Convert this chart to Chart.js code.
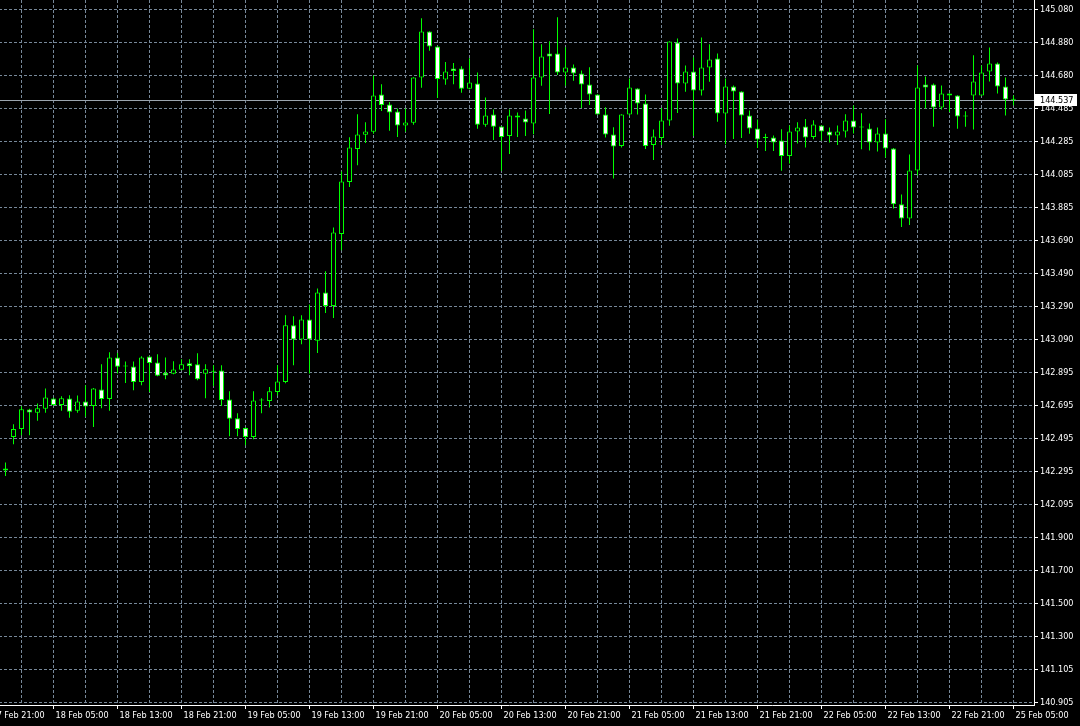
<!DOCTYPE html>
<html>
<head>
<meta charset="utf-8">
<script src="https://cdn.jsdelivr.net/npm/chart.js@4.4.1/dist/chart.umd.min.js"></script>
<style>
    html, body { margin: 0; padding: 0; background: #000; overflow: hidden; }
    #wrap { position: absolute; left: -16px; top: 0; width: 1096px; height: 726px; }
</style>
</head>
<body>
<div id="wrap"><canvas id="chart" width="1096" height="726"></canvas></div>
<script>
// H1 candles, 17 Feb 23:00 -> 25 Feb 05:00
const openPrices = [
    142.315, 142.505, 142.553, 142.670, 142.650, 142.674, 142.736, 142.698, 142.736, 142.662,
    142.718, 142.692, 142.791, 142.734, 142.983, 142.929, 142.929, 142.836, 142.990, 142.953,
    142.891, 142.885, 142.909, 142.949, 142.943, 142.885, 142.903, 142.905, 142.730, 142.618,
    142.558, 142.505, 142.724, 142.722, 142.776, 142.836, 143.178, 143.092, 143.212, 143.084,
    143.375, 143.294, 143.728, 144.041, 144.240, 144.325, 144.343, 144.568, 144.508, 144.466,
    144.381, 144.397, 144.670, 144.947, 144.857, 144.658, 144.725, 144.725, 144.602, 144.634,
    144.385, 144.447, 144.375, 144.318, 144.441, 144.423, 144.393, 144.670, 144.815, 144.815,
    144.700, 144.731, 144.694, 144.628, 144.568, 144.447, 144.327, 144.258, 144.447, 144.604,
    144.514, 144.264, 144.306, 144.411, 144.881, 144.634, 144.707, 144.592, 144.731, 144.785,
    144.453, 144.616, 144.586, 144.441, 144.363, 144.306, 144.309, 144.291, 144.198, 144.345,
    144.375, 144.312, 144.381, 144.345, 144.321, 144.345, 144.411, 144.369, 144.363, 144.279,
    144.333, 144.243, 143.907, 143.821, 144.110, 144.628, 144.628, 144.490, 144.574, 144.562,
    144.435, 144.562, 144.562, 144.707, 144.755, 144.616, 144.537
];
const highPrices = [
    142.351, 142.582, 142.690, 142.675, 142.706, 142.797, 142.741, 142.750, 142.756, 142.755,
    142.817, 142.799, 142.943, 143.015, 143.011, 142.959, 142.959, 142.991, 142.991, 143.003,
    142.983, 142.961, 142.973, 142.973, 143.009, 142.943, 142.937, 142.937, 142.780, 142.648,
    142.561, 142.780, 142.738, 142.806, 142.937, 143.238, 143.232, 143.238, 143.303, 143.399,
    143.503, 143.767, 144.104, 144.311, 144.449, 144.401, 144.682, 144.630, 144.522, 144.484,
    144.484, 144.672, 145.028, 144.949, 144.859, 144.763, 144.757, 144.738, 144.787, 144.700,
    144.550, 144.478, 144.377, 144.478, 144.459, 144.471, 144.961, 144.871, 144.889, 145.034,
    144.853, 144.749, 144.713, 144.732, 144.570, 144.491, 144.371, 144.449, 144.664, 144.606,
    144.568, 144.357, 144.487, 144.889, 144.905, 144.743, 144.791, 144.911, 144.871, 144.815,
    144.664, 144.622, 144.588, 144.471, 144.417, 144.331, 144.321, 144.359, 144.381, 144.401,
    144.421, 144.413, 144.383, 144.369, 144.381, 144.449, 144.502, 144.455, 144.393, 144.369,
    144.419, 144.245, 143.965, 144.206, 144.743, 144.676, 144.634, 144.622, 144.576, 144.564,
    144.467, 144.805, 144.743, 144.851, 144.761, 144.670, 144.562
];
const lowPrices = [
    142.270, 142.461, 142.515, 142.515, 142.602, 142.650, 142.693, 142.662, 142.620, 142.650,
    142.626, 142.565, 142.678, 142.662, 142.887, 142.830, 142.786, 142.817, 142.776, 142.871,
    142.853, 142.883, 142.907, 142.877, 142.847, 142.738, 142.812, 142.692, 142.509, 142.509,
    142.455, 142.491, 142.648, 142.682, 142.755, 142.829, 142.937, 143.064, 142.887, 143.011,
    143.252, 143.222, 143.630, 144.011, 144.142, 144.276, 144.331, 144.469, 144.349, 144.312,
    144.343, 144.385, 144.608, 144.831, 144.547, 144.626, 144.630, 144.578, 144.600, 144.361,
    144.373, 144.294, 144.108, 144.210, 144.312, 144.318, 144.329, 144.620, 144.451, 144.686,
    144.620, 144.650, 144.487, 144.505, 144.446, 144.309, 144.062, 144.249, 144.441, 144.447,
    144.240, 144.174, 144.264, 144.379, 144.457, 144.584, 144.318, 144.562, 144.644, 144.403,
    144.268, 144.300, 144.306, 144.331, 144.246, 144.228, 144.228, 144.108, 144.152, 144.273,
    144.249, 144.299, 144.291, 144.279, 144.264, 144.309, 144.333, 144.238, 144.231, 144.225,
    144.188, 143.881, 143.770, 143.782, 144.080, 144.484, 144.373, 144.478, 144.463, 144.361,
    144.373, 144.357, 144.560, 144.646, 144.574, 144.441, 144.503
];
const closePrices = [
    142.303, 142.552, 142.672, 142.652, 142.678, 142.743, 142.698, 142.738, 142.656, 142.718,
    142.688, 142.797, 142.734, 142.983, 142.927, 142.929, 142.836, 142.983, 142.951, 142.873,
    142.875, 142.911, 142.943, 142.933, 142.853, 142.913, 142.897, 142.728, 142.614, 142.553,
    142.505, 142.724, 142.724, 142.780, 142.839, 143.178, 143.092, 143.212, 143.092, 143.375,
    143.294, 143.737, 144.044, 144.249, 144.327, 144.345, 144.562, 144.505, 144.459, 144.381,
    144.399, 144.670, 144.947, 144.857, 144.662, 144.707, 144.710, 144.602, 144.640, 144.385,
    144.441, 144.373, 144.312, 144.441, 144.429, 144.399, 144.670, 144.797, 144.797, 144.700,
    144.731, 144.694, 144.628, 144.568, 144.447, 144.327, 144.255, 144.447, 144.610, 144.514,
    144.258, 144.315, 144.411, 144.887, 144.634, 144.707, 144.592, 144.731, 144.779, 144.453,
    144.616, 144.586, 144.441, 144.363, 144.297, 144.306, 144.279, 144.198, 144.345, 144.369,
    144.309, 144.387, 144.345, 144.321, 144.345, 144.411, 144.369, 144.369, 144.279, 144.333,
    144.243, 143.907, 143.821, 144.110, 144.610, 144.610, 144.490, 144.574, 144.562, 144.435,
    144.435, 144.646, 144.700, 144.755, 144.616, 144.538, 144.537
];

// time labels, one every 8 bars starting 2 bars before the first candle
const xTickLabels = [
    '17 Feb 21:00', '18 Feb 05:00', '18 Feb 13:00', '18 Feb 21:00', '19 Feb 05:00', '19 Feb 13:00',
    '19 Feb 21:00', '20 Feb 05:00', '20 Feb 13:00', '20 Feb 21:00', '21 Feb 05:00', '21 Feb 13:00',
    '21 Feb 21:00', '22 Feb 05:00', '22 Feb 13:00', '22 Feb 21:00', '25 Feb 05:00'
];
const yTickLabels = [
    '140.905', '141.105', '141.300', '141.500', '141.700', '141.900', '142.095', '142.295',
    '142.495', '142.695', '142.895', '143.090', '143.290', '143.490', '143.690', '143.885',
    '144.085', '144.285', '144.485', '144.680', '144.880', '145.080'
];
const currentPrice = 144.537;

const GREEN = '#00ff00';
const GRID = '#778899';
const FONT = { family: '"DejaVu Sans Condensed", "Liberation Sans", sans-serif', size: 9 };

const wickData = openPrices.map((o, i) => ({ x: i, y: [lowPrices[i], highPrices[i]] }));
const bodyData = openPrices.map((o, i) => ({ x: i, y: [o, closePrices[i]] }));
const bodyFill = openPrices.map((o, i) => {
    if (closePrices[i] > o) return '#000000';
    if (closePrices[i] < o) return '#ffffff';
    return GREEN;
});

// vertical grid every 4 bars, labelled every 8
const xGrid = [];
for (let k = 0; k <= 32; k++) xGrid.push(-2 + 4 * k);

const yLow = parseFloat(yTickLabels[0]);
const yStep = (parseFloat(yTickLabels[yTickLabels.length - 1]) - yLow) / (yTickLabels.length - 1);

const priceLine = {
    id: 'priceLine',
    beforeDatasetsDraw(chart) {
        const { ctx, chartArea, scales } = chart;
        const py = Math.round(scales.y.getPixelForValue(currentPrice)) + 0.5;
        ctx.save();
        ctx.strokeStyle = '#9aa4ae';
        ctx.lineWidth = 1;
        ctx.beginPath();
        ctx.moveTo(chartArea.left, py);
        ctx.lineTo(chartArea.right, py);
        ctx.stroke();
        ctx.restore();
    },
    afterDraw(chart) {
        const { ctx, chartArea, scales } = chart;
        const py = Math.round(scales.y.getPixelForValue(currentPrice));
        ctx.save();
        ctx.fillStyle = '#ffffff';
        ctx.fillRect(chartArea.right + 1, py - 6, 42, 12);
        ctx.fillStyle = '#000000';
        ctx.font = `${FONT.size}px ${FONT.family}`;
        ctx.textBaseline = 'middle';
        ctx.fillText(currentPrice.toFixed(3), chartArea.right + 6, py + 0.5);
        ctx.restore();
    }
};

new Chart(document.getElementById('chart'), {
    type: 'bar',
    data: {
        datasets: [
            {
                label: 'wick',
                data: wickData,
                backgroundColor: GREEN,
                borderWidth: 0,
                barThickness: 1,
                inflateAmount: 0,
                grouped: false,
                order: 2
            },
            {
                label: 'body',
                data: bodyData,
                backgroundColor: bodyFill,
                borderColor: GREEN,
                borderWidth: 1,
                borderSkipped: false,
                barThickness: 5,
                minBarLength: 1,
                inflateAmount: 0,
                grouped: false,
                order: 1
            }
        ]
    },
    options: {
        responsive: false,
        animation: false,
        events: [],
        layout: { padding: 0 },
        plugins: {
            legend: { display: false },
            tooltip: { enabled: false }
        },
        scales: {
            x: {
                type: 'linear',
                min: -2.6875,
                max: 128.5625,
                offset: false,
                grid: {
                    offset: false,
                    color: GRID,
                    lineWidth: 1,
                    tickLength: 4,
                    tickColor: ctx => (ctx.index % 2 === 0 ? '#ffffff' : 'rgba(0,0,0,0)')
                },
                border: { color: '#ffffff', width: 1, dash: [3, 2] },
                ticks: {
                    autoSkip: false,
                    maxRotation: 0,
                    align: 'start',
                    labelOffset: 2,
                    padding: 1,
                    color: '#ffffff',
                    font: FONT,
                    callback: (v, idx) => (idx % 2 === 0 ? xTickLabels[idx / 2] : '')
                },
                afterBuildTicks: s => { s.ticks = xGrid.map(v => ({ value: v })); },
                afterFit: s => { s.height = 21; s.paddingLeft = 0; s.paddingRight = 0; }
            },
            y: {
                position: 'right',
                min: 140.88994,
                max: 145.13723,
                grid: { color: GRID, lineWidth: 1, tickLength: 4, tickColor: '#ffffff' },
                border: { color: '#ffffff', width: 1, dash: [3, 2] },
                ticks: {
                    autoSkip: false,
                    padding: 2,
                    color: '#ffffff',
                    font: FONT,
                    callback: (v, idx) => yTickLabels[idx]
                },
                afterBuildTicks: s => { s.ticks = yTickLabels.map((t, k) => ({ value: yLow + k * yStep })); },
                afterFit: s => { s.width = 46; s.paddingTop = 0; s.paddingBottom = 0; }
            }
        }
    },
    plugins: [priceLine]
});
</script>
</body>
</html>
